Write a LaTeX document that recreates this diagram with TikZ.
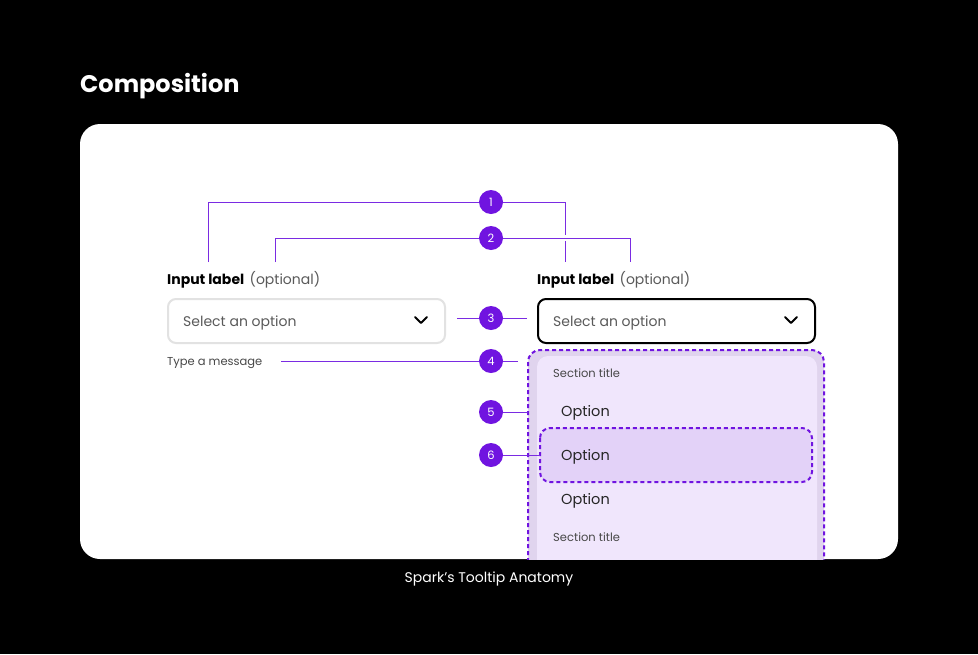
\documentclass[tikz,border=0pt]{standalone}
\usepackage{fontspec}
\setmainfont{Poppins}
\usetikzlibrary{positioning}
\definecolor{spark}{HTML}{7014E0}
\definecolor{sparkline}{HTML}{7A2BE2}
\definecolor{panelbg}{HTML}{F0E6FC}
\definecolor{panelshade}{HTML}{E0D4EE}
\definecolor{hoverbg}{HTML}{E3D2F8}
\definecolor{txtgray}{HTML}{5A5A5A}
\definecolor{bordergray}{HTML}{E2E2E2}
\tikzset{
  badge/.style={circle, fill=spark, text=white, inner sep=0pt,
                minimum size=24pt, font=\fontsize{11.5}{12}\selectfont},
  leader/.style={draw=sparkline, line width=0.9pt},
  lbl/.style={anchor=base west, inner sep=0pt, font=\fontsize{14}{16}\selectfont\bfseries},
  opt/.style={anchor=base west, inner sep=0pt, text=txtgray, font=\fontsize{14}{16}\selectfont},
  hint/.style={anchor=base west, inner sep=0pt, text=txtgray!80!black, font=\fontsize{11.5}{13}\selectfont},
  item/.style={anchor=base west, inner sep=0pt, text=black!85, font=\fontsize{14.5}{16}\selectfont},
  field/.style={rounded corners=8pt, line width=2pt, fill=white},
  chev/.style={line width=1.8pt, line cap=round, line join=round},
  dashbox/.style={draw=spark, line width=2pt, dash pattern=on 4pt off 3pt}
}
\begin{document}
\begin{tikzpicture}[x=1pt, y=-1pt]
  \fill[black] (0,0) rectangle (978,654);
  \useasboundingbox (0,0) rectangle (978,654);
  % title and caption
  \node[anchor=base west, inner sep=0pt, text=white,
        font=\fontsize{24}{26}\selectfont\bfseries] (title) at (80,92) {Composition};
  \node[anchor=base, inner sep=0pt, text=white,
        font=\fontsize{14}{16}\selectfont] (caption) at (489,582) {Spark’s Tooltip Anatomy};
  % card
  \fill[white, rounded corners=20pt] (80,124) rectangle (898,559);
  % dropdown panel, cut at the card edge
  \begin{scope}
    \clip (80,124) rectangle (898,559);
    \fill[panelshade, rounded corners=12pt] (528,350) rectangle (824,600);
    \fill[panelbg, rounded corners=11pt] (537,356) rectangle (817,600);
    \fill[hoverbg, rounded corners=10pt] (540,428) rectangle (812,482);
    \draw[dashbox, rounded corners=10pt] (540,428) rectangle (812,482);
    \draw[dashbox, rounded corners=12pt] (528,350) rectangle (824,600);
  \end{scope}
  \node[hint] (sec1) at (553,377) {Section title};
  \node[item] (opt1) at (561,416) {Option};
  \node[item] (opt2) at (561,460) {Option};
  \node[item] (opt3) at (561,504) {Option};
  \node[hint] (sec2) at (553,541) {Section title};
  % left field
  \node[lbl] (lab1) at (167,284) {Input label};
  \node[opt, right=5pt of lab1.base east, anchor=base west] (par1) {(optional)};
  \draw[field, draw=bordergray] (168,299) rectangle (445,343);
  \node[opt] (sel1) at (183,326) {Select an option};
  \draw[chev] (415,317) -- (421,323) -- (427,317);
  \node[hint] (msg) at (167,365) {Type a message};
  % right field
  \node[lbl] (lab2) at (537,284) {Input label};
  \node[opt, right=5pt of lab2.base east, anchor=base west] (par2) {(optional)};
  \draw[field, draw=black] (538,299) rectangle (815,343);
  \node[opt] (sel2) at (553,326) {Select an option};
  \draw[chev] (785,317) -- (791,323) -- (797,317);
  % badges
  \node[badge] (b1) at (491,202) {1};
  \node[badge] (b2) at (491,238) {2};
  \node[badge] (b3) at (491,318) {3};
  \node[badge] (b4) at (491,361) {4};
  \node[badge] (b5) at (491,412) {5};
  \node[badge] (b6) at (491,455) {6};
  % leader ends
  \coordinate (l1a) at (208,262);
  \coordinate (l1b) at (565,262);
  \coordinate (l2a) at (275,262);
  \coordinate (l2b) at (630,262);
  \coordinate (l3a) at (457,318);
  \coordinate (l3b) at (527,318);
  \coordinate (l4) at (281,361);
  \coordinate (l4b) at (518,361);
  \coordinate (l5) at (528,412);
  \coordinate (l6) at (540,455);
  % leaders
  \draw[leader] (l1a) |- (b1.west);
  \draw[leader] (b1.east) -| (565,235);
  \draw[leader] (565,241) -- (l1b);
  \draw[leader] (l2a) |- (b2.west);
  \draw[leader] (b2.east) -| (l2b);
  \draw[leader] (l3a) -- (b3.west);
  \draw[leader] (b3.east) -- (l3b);
  \draw[leader] (l4) -- (b4.west);
  \draw[leader] (b4.east) -- (l4b);
  \draw[leader] (b5.east) -- (l5);
  \draw[leader] (b6.east) -- (l6);
\end{tikzpicture}
\end{document}
